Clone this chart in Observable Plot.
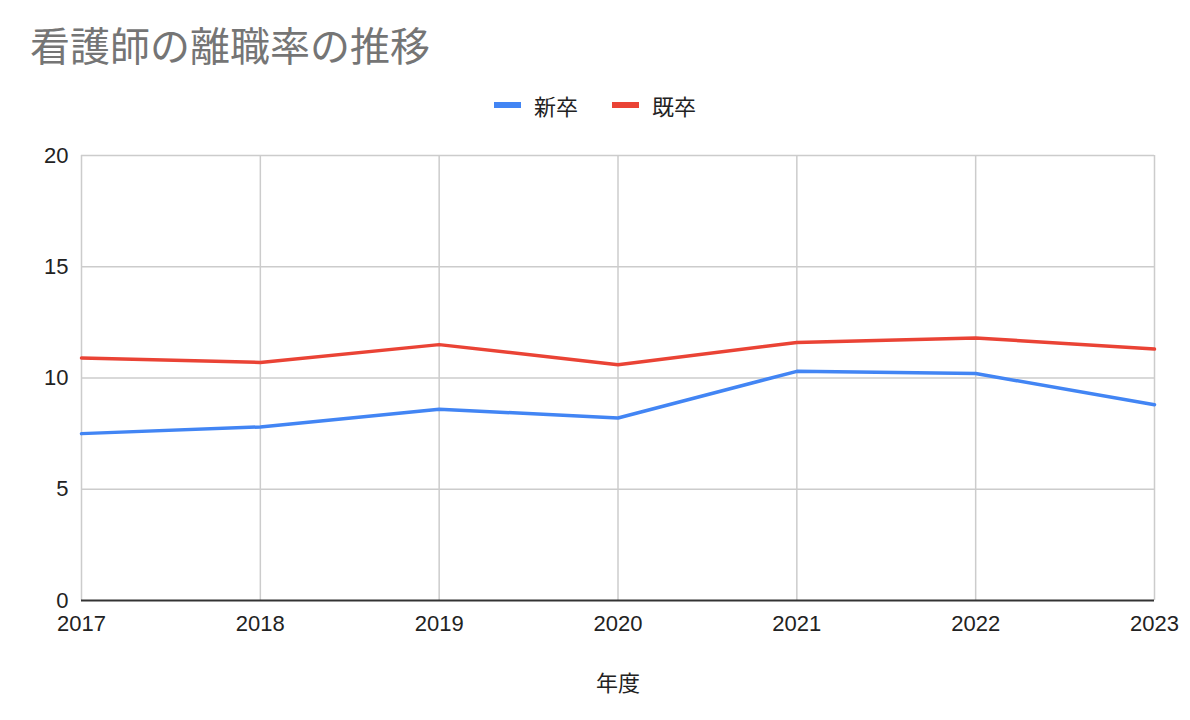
<!DOCTYPE html>
<html>
<head>
<meta charset="utf-8">
<script src="https://cdn.jsdelivr.net/npm/d3@7"></script>
<script src="https://cdn.jsdelivr.net/npm/@observablehq/plot@0.6"></script>
<style>
  body { margin: 0; background: #fff; font-family: "Liberation Sans", Arial, "Noto Sans CJK JP", sans-serif; }
  #title { height: 80px; box-sizing: border-box; padding-left: 30px; padding-top: 23px; font-size: 40px; line-height: 42px; color: #757575; font-family: "Noto Sans CJK JP", sans-serif; }
  #legend { height: 50px; display: flex; justify-content: center; align-items: center; font-size: 22px; color: #222; font-family: "Noto Sans CJK JP", sans-serif; box-sizing: border-box; }
  .item { display: flex; align-items: center; margin: 0 17px; }
  .sw { width: 27px; height: 6px; margin-right: 13px; }
</style>
</head>
<body>
<div id="title"></div>
<div id="legend"></div>
<div id="chart"></div>
<script>
const titleText = "看護師の離職率の推移";
const years = [2017, 2018, 2019, 2020, 2021, 2022, 2023];
const seriesNames = ["新卒", "既卒"];
const shinsotsu = [7.5, 7.8, 8.6, 8.2, 10.3, 10.2, 8.8];
const kisotsu = [10.9, 10.7, 11.5, 10.6, 11.6, 11.8, 11.3];
const colors = ["#4285F4", "#EA4335"];
const yTicks = [0, 5, 10, 15, 20];
const xLabel = "年度";

document.getElementById("title").textContent = titleText;
const legend = document.getElementById("legend");
seriesNames.forEach((n, i) => {
  const it = document.createElement("div"); it.className = "item";
  const sw = document.createElement("div"); sw.className = "sw"; sw.style.background = colors[i];
  const tx = document.createElement("span"); tx.textContent = n;
  it.appendChild(sw); it.appendChild(tx); legend.appendChild(it);
});

const data = [];
years.forEach((y, i) => {
  data.push({year: y, value: shinsotsu[i], series: seriesNames[0]});
  data.push({year: y, value: kisotsu[i], series: seriesNames[1]});
});

const chart = Plot.plot({
  width: 1190,
  height: 590,
  marginLeft: 81,
  marginRight: 36,
  marginTop: 25,
  marginBottom: 120,
  style: {fontSize: "22px", fontFamily: "'Liberation Sans', Arial, 'Noto Sans CJK JP', sans-serif", color: "#222"},
  x: {domain: [years[0], years[years.length - 1]], ticks: years, tickFormat: d => String(d), tickSize: 0, tickPadding: 15, label: xLabel, labelAnchor: "center", labelArrow: "none", labelOffset: 90},
  y: {domain: [0, 20], ticks: yTicks, tickSize: 0, tickPadding: 13, label: null},
  color: {domain: seriesNames, range: colors},
  marks: [
    Plot.ruleX(years, {stroke: "#cccccc", strokeWidth: 1.5}),
    Plot.ruleY(yTicks.slice(1), {stroke: "#cccccc", strokeWidth: 1.5}),
    Plot.ruleY([0], {stroke: "#333333", strokeWidth: 2}),
    Plot.line(data, {x: "year", y: "value", z: "series", stroke: "series", strokeWidth: 3.5, curve: "linear"})
  ]
});
document.getElementById("chart").appendChild(chart);
</script>
</body>
</html>
